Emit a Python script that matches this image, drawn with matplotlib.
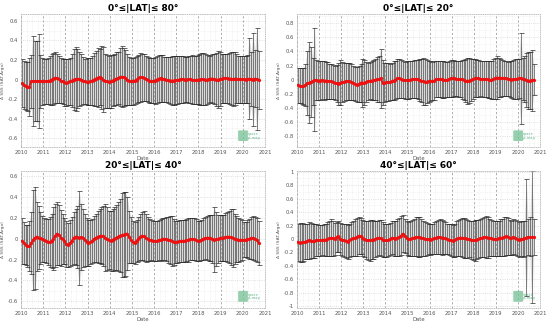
import numpy as np
import matplotlib
matplotlib.use("Agg")
import matplotlib.pyplot as plt
from matplotlib.patches import FancyBboxPatch
from matplotlib.ticker import AutoMinorLocator

# monthly samples, Jan 2010 .. Sep 2020 (decimal years, mid-month)
n_months = 129
dates = 2010 + (np.arange(n_months) + 0.5) / 12

titles = ["0°≤|LAT|≤ 80°", "0°≤|LAT|≤ 20°", "20°≤|LAT|≤ 40°", "40°≤|LAT|≤ 60°"]

mean_0_80 = [
    -0.04, -0.06, -0.07, -0.075, -0.075, -0.02, -0.015, -0.015, -0.015, -0.015, -0.02, -0.02,
    -0.02, -0.02, -0.015, -0.01, 0.0, 0.01, 0.02, 0.015, 0.005, -0.01, -0.02, -0.03,
    -0.035, -0.03, -0.02, -0.01, 0.0, 0.005, 0.01, 0.005, 0.0, -0.01, -0.02, -0.025,
    -0.025, -0.02, -0.01, 0.0, 0.01, 0.02, 0.025, 0.02, 0.0, -0.015, -0.02, -0.025,
    -0.02, -0.01, 0.0, 0.01, 0.015, 0.025, 0.03, 0.025, 0.02, 0.0, -0.015, -0.02,
    -0.02, -0.01, 0.0, 0.015, 0.025, 0.025, 0.02, 0.01, 0.0, -0.01, -0.015, -0.015,
    -0.01, 0.0, 0.01, 0.015, 0.01, 0.005, 0.0, -0.005, -0.01, -0.01, -0.01, -0.005,
    -0.005, 0.0, 0.005, 0.005, 0.0, 0.0, 0.005, 0.005, 0.0, -0.005, -0.005, 0.0,
    0.0, 0.005, 0.005, 0.0, 0.0, 0.005, 0.01, 0.01, 0.005, 0.0, 0.0, 0.005,
    0.01, 0.015, 0.015, 0.015, 0.01, 0.01, 0.005, 0.01, 0.01, 0.005, 0.005, 0.005,
    0.005, 0.0, 0.005, 0.01, 0.005, 0.0, 0.01, 0.005, -0.005,
]
std_0_80 = [
    0.245, 0.245, 0.245, 0.25, 0.3, 0.27, 0.46, 0.41, 0.41, 0.48, 0.27, 0.24,
    0.23, 0.23, 0.24, 0.25, 0.26, 0.26, 0.26, 0.25, 0.24, 0.23, 0.23, 0.24,
    0.24, 0.235, 0.24, 0.27, 0.31, 0.33, 0.3, 0.28, 0.26, 0.24, 0.23, 0.24,
    0.24, 0.24, 0.25, 0.27, 0.28, 0.3, 0.29, 0.32, 0.33, 0.28, 0.27, 0.27,
    0.27, 0.26, 0.26, 0.27, 0.27, 0.3, 0.31, 0.3, 0.28, 0.26, 0.25, 0.24,
    0.24, 0.24, 0.24, 0.24, 0.25, 0.24, 0.24, 0.23, 0.23, 0.23, 0.23, 0.23,
    0.24, 0.24, 0.24, 0.24, 0.24, 0.23, 0.23, 0.24, 0.24, 0.25, 0.25, 0.25,
    0.25, 0.24, 0.24, 0.24, 0.23, 0.23, 0.24, 0.24, 0.25, 0.25, 0.25, 0.25,
    0.26, 0.27, 0.27, 0.26, 0.25, 0.24, 0.24, 0.25, 0.26, 0.27, 0.29, 0.28,
    0.25, 0.25, 0.25, 0.25, 0.26, 0.27, 0.28, 0.27, 0.25, 0.24, 0.24, 0.24,
    0.24, 0.24, 0.25, 0.41, 0.28, 0.48, 0.29, 0.52, 0.3,
]

mean_0_20 = [
    -0.08, -0.085, -0.09, -0.09, -0.07, -0.05, -0.04, -0.03, -0.02, 0.0, -0.005, -0.01,
    -0.01, -0.005, -0.01, -0.01, -0.015, -0.02, -0.02, -0.03, -0.04, -0.05, -0.06, -0.04,
    -0.03, -0.03, -0.02, -0.02, -0.02, -0.03, -0.04, -0.06, -0.07, -0.06, -0.04, -0.04,
    -0.04, -0.03, -0.02, -0.015, -0.01, -0.005, 0.0, 0.005, 0.01, 0.02, -0.04, -0.04,
    -0.035, -0.03, -0.03, -0.02, -0.01, 0.0, 0.02, 0.02, 0.01, 0.0, -0.005, -0.005,
    0.0, 0.0, 0.005, 0.01, 0.01, 0.005, 0.0, -0.01, -0.02, -0.03, -0.025, -0.02,
    -0.02, -0.02, -0.01, 0.01, 0.01, 0.01, 0.005, 0.0, 0.0, 0.0, 0.01, 0.02,
    0.02, 0.02, 0.015, 0.01, 0.01, 0.005, 0.0, -0.01, -0.015, -0.01, 0.0, 0.01,
    0.02, 0.02, 0.02, 0.015, 0.01, 0.01, 0.01, 0.005, 0.0, 0.0, 0.01, 0.02,
    0.03, 0.03, 0.03, 0.025, 0.02, 0.02, 0.015, 0.01, 0.0, 0.005, 0.01, 0.015,
    0.02, 0.02, 0.015, 0.01, -0.005, -0.01, -0.01, -0.005, 0.0,
]
std_0_20 = [
    0.25, 0.25, 0.25, 0.26, 0.3, 0.45, 0.57, 0.5, 0.33, 0.73, 0.28, 0.28,
    0.27, 0.27, 0.27, 0.26, 0.26, 0.25, 0.25, 0.24, 0.24, 0.26, 0.3, 0.32,
    0.28, 0.27, 0.26, 0.26, 0.26, 0.25, 0.24, 0.24, 0.25, 0.26, 0.27, 0.34,
    0.32, 0.28, 0.26, 0.26, 0.27, 0.28, 0.29, 0.32, 0.33, 0.42, 0.32, 0.28,
    0.27, 0.27, 0.26, 0.26, 0.27, 0.27, 0.28, 0.28, 0.27, 0.26, 0.26, 0.27,
    0.27, 0.26, 0.26, 0.27, 0.27, 0.28, 0.3, 0.31, 0.33, 0.32, 0.3, 0.29,
    0.28, 0.27, 0.27, 0.26, 0.26, 0.26, 0.26, 0.26, 0.25, 0.25, 0.25, 0.26,
    0.26, 0.25, 0.25, 0.25, 0.26, 0.27, 0.28, 0.3, 0.33, 0.32, 0.3, 0.28,
    0.27, 0.26, 0.26, 0.25, 0.25, 0.25, 0.25, 0.26, 0.26, 0.27, 0.28, 0.29,
    0.3, 0.28, 0.27, 0.26, 0.25, 0.25, 0.24, 0.25, 0.26, 0.27, 0.28, 0.28,
    0.28, 0.64, 0.3, 0.33, 0.38, 0.4, 0.4, 0.43, 0.22,
]

mean_20_40 = [
    -0.02, -0.04, -0.06, -0.07, -0.07, -0.04, -0.01, 0.01, 0.02, 0.01, 0.005, 0.0,
    -0.01, -0.02, -0.03, -0.03, -0.02, 0.0, 0.03, 0.05, 0.035, 0.01, 0.0, -0.02,
    -0.05, -0.06, -0.04, -0.02, 0.01, 0.02, 0.015, 0.01, 0.015, 0.01, -0.01, -0.03,
    -0.04, -0.035, -0.02, 0.0, 0.01, 0.02, 0.025, 0.03, 0.025, 0.01, 0.0, -0.01,
    -0.02, -0.01, 0.0, 0.01, 0.02, 0.03, 0.035, 0.04, 0.045, 0.05, 0.02, -0.01,
    -0.03, -0.04, -0.02, 0.0, 0.02, 0.03, 0.025, 0.01, 0.0, -0.01, -0.015, -0.02,
    -0.02, -0.02, -0.015, -0.01, 0.0, 0.0, -0.005, -0.01, -0.01, -0.02, -0.03, -0.03,
    -0.03, -0.025, -0.02, -0.02, -0.02, -0.015, -0.01, -0.005, 0.0, -0.005, -0.01, -0.02,
    -0.02, -0.01, 0.0, 0.005, 0.01, 0.01, 0.005, 0.0, -0.01, -0.005, 0.0, 0.005,
    0.01, 0.01, 0.015, 0.02, 0.02, 0.015, 0.01, 0.0, -0.005, -0.01, -0.01, -0.01,
    -0.01, -0.01, -0.005, 0.0, 0.005, 0.01, 0.0, -0.01, -0.04,
]
std_20_40 = [
    0.22, 0.2, 0.19, 0.2, 0.24, 0.3, 0.48, 0.49, 0.33, 0.3, 0.25, 0.22,
    0.21, 0.21, 0.22, 0.24, 0.26, 0.3, 0.3, 0.3, 0.29, 0.27, 0.24, 0.22,
    0.22, 0.21, 0.22, 0.23, 0.25, 0.27, 0.3, 0.45, 0.32, 0.28, 0.25, 0.23,
    0.22, 0.21, 0.21, 0.22, 0.23, 0.25, 0.26, 0.27, 0.29, 0.32, 0.3, 0.28,
    0.29, 0.3, 0.3, 0.31, 0.33, 0.35, 0.4, 0.41, 0.4, 0.35, 0.25, 0.22,
    0.2, 0.2, 0.2, 0.21, 0.22, 0.23, 0.24, 0.23, 0.21, 0.2, 0.19, 0.19,
    0.19, 0.19, 0.19, 0.2, 0.2, 0.2, 0.21, 0.22, 0.23, 0.24, 0.22, 0.2,
    0.2, 0.2, 0.2, 0.2, 0.2, 0.2, 0.21, 0.2, 0.2, 0.2, 0.2, 0.19,
    0.19, 0.19, 0.2, 0.2, 0.21, 0.22, 0.22, 0.23, 0.31, 0.26, 0.23, 0.22,
    0.22, 0.22, 0.23, 0.24, 0.25, 0.27, 0.28, 0.24, 0.22, 0.21, 0.2, 0.19,
    0.17, 0.17, 0.18, 0.19, 0.2, 0.21, 0.21, 0.21, 0.21,
]

mean_40_60 = [
    -0.05, -0.055, -0.05, -0.05, -0.04, -0.03, -0.02, -0.025, -0.03, -0.03, -0.02, -0.02,
    -0.02, -0.015, -0.01, -0.01, 0.0, 0.01, 0.02, 0.01, 0.0, 0.03, 0.04, 0.0,
    -0.01, -0.02, -0.03, -0.04, -0.02, 0.0, 0.01, 0.02, 0.03, 0.05, 0.04, 0.01,
    0.0, -0.01, -0.02, -0.02, -0.01, -0.01, 0.0, 0.01, 0.02, 0.01, -0.01, -0.02,
    -0.02, -0.02, 0.0, 0.02, 0.01, 0.0, 0.02, 0.03, 0.05, 0.08, 0.04, 0.01,
    0.0, 0.0, 0.01, 0.02, 0.03, 0.03, 0.03, 0.02, 0.01, 0.0, 0.0, 0.0,
    -0.01, 0.0, 0.01, 0.02, 0.03, 0.03, 0.02, 0.02, 0.01, 0.0, -0.01, -0.02,
    -0.03, -0.02, 0.0, 0.01, 0.02, 0.02, 0.015, 0.01, 0.005, 0.0, -0.01, -0.02,
    -0.02, -0.01, 0.0, 0.01, 0.02, 0.03, 0.025, 0.02, 0.02, 0.01, 0.0, 0.0,
    0.0, 0.01, 0.02, 0.02, 0.03, 0.04, 0.035, 0.02, 0.01, 0.03, 0.02, 0.0,
    -0.01, 0.0, 0.0, 0.01, 0.02, 0.03, 0.03, 0.03, 0.03,
]
std_40_60 = [
    0.28, 0.29, 0.29, 0.27, 0.26, 0.26, 0.27, 0.26, 0.25, 0.25, 0.24, 0.23,
    0.23, 0.23, 0.24, 0.24, 0.25, 0.26, 0.27, 0.26, 0.24, 0.22, 0.23, 0.24,
    0.24, 0.25, 0.25, 0.25, 0.25, 0.25, 0.26, 0.27, 0.28, 0.28, 0.27, 0.27,
    0.27, 0.28, 0.29, 0.3, 0.29, 0.28, 0.27, 0.26, 0.26, 0.27, 0.26, 0.25,
    0.25, 0.24, 0.24, 0.25, 0.26, 0.26, 0.27, 0.28, 0.29, 0.27, 0.25, 0.25,
    0.25, 0.26, 0.27, 0.28, 0.29, 0.3, 0.3, 0.28, 0.26, 0.25, 0.24, 0.23,
    0.23, 0.23, 0.24, 0.25, 0.25, 0.26, 0.26, 0.25, 0.24, 0.23, 0.23, 0.24,
    0.24, 0.25, 0.26, 0.27, 0.28, 0.29, 0.3, 0.29, 0.28, 0.27, 0.28, 0.29,
    0.3, 0.29, 0.28, 0.28, 0.29, 0.3, 0.31, 0.3, 0.28, 0.27, 0.26, 0.26,
    0.26, 0.26, 0.27, 0.28, 0.29, 0.28, 0.27, 0.26, 0.25, 0.26, 0.26, 0.26,
    0.26, 0.26, 0.27, 0.26, 0.87, 0.27, 0.29, 0.98, 0.27,
]

means = [mean_0_80, mean_0_20, mean_20_40, mean_40_60]
stds = [std_0_80, std_0_20, std_20_40, std_40_60]

ylims = [(-0.69, 0.67), (-0.95, 0.93), (-0.665, 0.65), (-1.025, 1.01)]
yticks = [np.arange(-0.6, 0.61, 0.2), np.arange(-0.8, 0.81, 0.2),
          np.arange(-0.6, 0.61, 0.2), np.arange(-1.0, 1.01, 0.2)]
years = list(range(2010, 2022))

# axes boxes in figure fraction (left, bottom, width, height)
boxes = [
    (21 / 550, 1 - 147 / 324, 244 / 550, 133 / 324),
    (297 / 550, 1 - 147 / 324, 243 / 550, 133 / 324),
    (21 / 550, 1 - 308 / 324, 244 / 550, 137 / 324),
    (297 / 550, 1 - 308 / 324, 243 / 550, 137 / 324),
]


def tick_fmt(v):
    v = round(v, 1)
    if abs(v) < 1e-9:
        return "0"
    if abs(v - round(v)) < 1e-9:
        return str(int(round(v)))
    return ("%.1f" % v)


fig = plt.figure(figsize=(5.5, 3.24), dpi=100)

for k in range(4):
    ax = fig.add_axes(boxes[k])
    m = np.array(means[k])
    s = np.array(stds[k])

    ax.fill_between(dates, m - s, m + s, color="#dadada", lw=0, zorder=1)
    ax.errorbar(dates, m, yerr=s, fmt="none", ecolor="#2a2a2a", elinewidth=0.4,
                capsize=1.8, capthick=0.5, zorder=2)
    ax.plot(dates, m, color="#ee1111", lw=1.3, marker="o", ms=1.3, zorder=3)

    ax.set_xlim(2010, 2021)
    ax.set_ylim(*ylims[k])
    ax.set_xticks(years)
    ax.set_xticklabels([str(y) for y in years])
    ax.set_yticks(yticks[k])
    ax.set_yticklabels([tick_fmt(v) for v in yticks[k]])
    ax.xaxis.set_minor_locator(AutoMinorLocator(4))
    ax.yaxis.set_minor_locator(AutoMinorLocator(2))
    ax.tick_params(which="both", labelsize=3.8, length=0, pad=2, colors="#555555")

    ax.grid(axis="x", which="major", color="#8a8a8a", linestyle=(0, (3, 3)), lw=0.5, zorder=0)
    ax.grid(axis="y", which="major", color="#cccccc", linestyle=":", lw=0.5, zorder=0)
    ax.grid(which="minor", color="#e2e2e2", linestyle=":", lw=0.4, zorder=0)
    for sp in ax.spines.values():
        sp.set_color("#bbbbbb")
        sp.set_linestyle(":")
        sp.set_linewidth(0.6)

    ax.set_title(titles[k], fontsize=6.5, fontweight="bold", pad=2)
    ax.set_xlabel("Date", fontsize=3.8, labelpad=1, color="#555555")
    ax.set_ylabel("Δ SSS (SAT-Argo)", fontsize=3.2, labelpad=2, color="#555555")

    # small logo in the bottom-right corner
    ax.add_patch(FancyBboxPatch((0.895, 0.05), 0.03, 0.07, boxstyle="round,pad=0.005",
                                transform=ax.transAxes, fc="#7cc49a", ec="none",
                                alpha=0.8, zorder=4))
    ax.text(0.93, 0.085, "space\npi-map", transform=ax.transAxes, fontsize=2.6,
            color="#5db585", va="center", ha="left", linespacing=0.9, zorder=5)

fig.savefig("out.png", dpi=100)
